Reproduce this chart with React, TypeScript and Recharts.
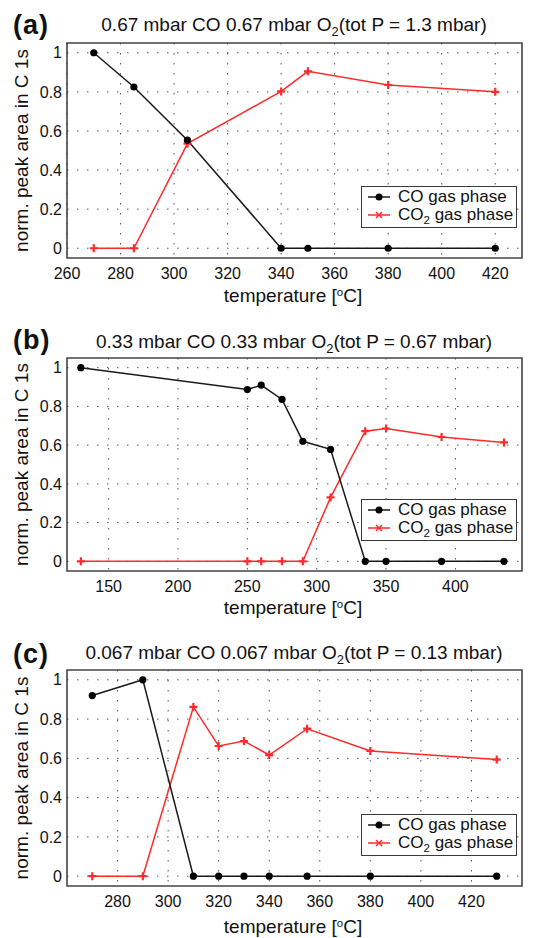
import React from 'react';
import { LineChart, Line, XAxis, YAxis, CartesianGrid, ReferenceArea, Legend } from 'recharts';

// panel (a) 0.67 mbar CO + 0.67 mbar O2
const tempA = [270, 285, 305, 340, 350, 380, 420];
const coA = [1.0, 0.825, 0.553, 0, 0, 0, 0];
const co2A = [0, 0, 0.535, 0.802, 0.905, 0.835, 0.8];
const xTicksA = [260, 280, 300, 320, 340, 360, 380, 400, 420];

// panel (b) 0.33 mbar CO + 0.33 mbar O2
const tempB = [130, 250, 260, 275, 290, 310, 335, 350, 390, 435];
const coB = [1.0, 0.887, 0.91, 0.836, 0.62, 0.578, 0, 0, 0, 0];
const co2B = [0, 0, 0, 0, 0, 0.33, 0.672, 0.686, 0.642, 0.614];
const xTicksB = [150, 200, 250, 300, 350, 400];

// panel (c) 0.067 mbar CO + 0.067 mbar O2
const tempC = [270, 290, 310, 320, 330, 340, 355, 380, 430];
const coC = [0.92, 1.0, 0, 0, 0, 0, 0, 0, 0];
const co2C = [0, 0, 0.862, 0.663, 0.688, 0.617, 0.751, 0.638, 0.594];
const xTicksC = [280, 300, 320, 340, 360, 380, 400, 420];

const yTicks = [0, 0.2, 0.4, 0.6, 0.8, 1];
const yGrid = [0, 0.1, 0.2, 0.3, 0.4, 0.5, 0.6, 0.7, 0.8, 0.9, 1];

const FONT = '"Liberation Sans", Arial, Helvetica, sans-serif';
const RED = '#ff2b2b';
const BLACK = '#1a1a1a';

const CircleDot = (props: any) => {
  const { cx, cy, index } = props;
  if (cx == null || cy == null) return null;
  return <circle key={'c' + index} cx={cx} cy={cy} r={3.6} fill="#000" />;
};

const PlusDot = (props: any) => {
  const { cx, cy, index } = props;
  if (cx == null || cy == null) return null;
  const s = 4;
  return (
    <path
      key={'p' + index}
      d={`M${cx - s},${cy}H${cx + s}M${cx},${cy - s}V${cy + s}`}
      stroke={RED}
      strokeWidth={2.2}
      fill="none"
    />
  );
};

const Sub = ({ children }: { children: React.ReactNode }) => (
  <sub style={{ fontSize: '0.68em', verticalAlign: '-0.35em', lineHeight: 0 }}>{children}</sub>
);

const LegendBox = () => (
  <div
    style={{
      width: 156,
      height: 42,
      boxSizing: 'border-box',
      border: '1.5px solid #3a3a3a',
      background: '#fff',
      fontFamily: FONT,
      fontSize: 17,
      color: '#111',
      paddingTop: 1,
      textAlign: 'left',
    }}
  >
    <div style={{ display: 'flex', alignItems: 'center', height: 18 }}>
      <svg width={22} height={10} style={{ marginLeft: 6, marginRight: 8 }}>
        <line x1={0} y1={5} x2={22} y2={5} stroke={BLACK} strokeWidth={1.5} />
        <circle cx={11} cy={5} r={3.5} fill="#000" />
      </svg>
      <span style={{ whiteSpace: 'nowrap' }}>CO gas phase</span>
    </div>
    <div style={{ display: 'flex', alignItems: 'center', height: 18 }}>
      <svg width={22} height={10} style={{ marginLeft: 6, marginRight: 8 }}>
        <line x1={0} y1={5} x2={22} y2={5} stroke={RED} strokeWidth={1.5} />
        <path d="M8,2L14,8M14,2L8,8" stroke={RED} strokeWidth={1.5} />
      </svg>
      <span style={{ whiteSpace: 'nowrap' }}>
        CO<Sub>2</Sub> gas phase
      </span>
    </div>
  </div>
);

type PanelProps = {
  tag: string;
  title: React.ReactNode;
  temps: number[];
  co: number[];
  co2: number[];
  xDomain: [number, number];
  xTicks: number[];
  height: number;
  plotTop: number;
  plotBottom: number;
  legendTop: number;
  titleY: number;
  tagY: number;
  xLabelY: number;
};

function Panel(p: PanelProps) {
  const data = p.temps.map((t, i) => ({ t, co: p.co[i], co2: p.co2[i] }));
  const xAxisH = 30;
  const tickStyle = { fill: '#111', fontSize: 16, fontFamily: FONT };
  return (
    <div style={{ position: 'relative', width: 541, height: p.height }}>
      <LineChart
        width={541}
        height={p.height}
        data={data}
        margin={{ top: p.plotTop, right: 19, bottom: p.height - p.plotBottom - xAxisH, left: 0 }}
      >
        <CartesianGrid
          stroke="#555"
          strokeDasharray="1.5 8.5"
          horizontalValues={yGrid}
          verticalValues={p.xTicks}
        />
        <XAxis
          type="number"
          dataKey="t"
          domain={p.xDomain}
          ticks={p.xTicks}
          allowDataOverflow
          height={xAxisH}
          axisLine={false}
          tickLine={false}
          tickSize={6}
          tickMargin={4}
          tick={tickStyle}
        />
        <YAxis
          type="number"
          domain={[-0.05, 1.05]}
          ticks={yTicks}
          allowDataOverflow
          width={67}
          axisLine={false}
          tickLine={false}
          tickSize={3}
          tickMargin={2}
          tick={tickStyle}
          label={{
            value: 'norm. peak area in C 1s',
            angle: -90,
            position: 'insideLeft',
            offset: 21,
            style: { textAnchor: 'middle', fontSize: 19, fontFamily: FONT, fill: '#111' },
          }}
        />
        <ReferenceArea
          x1={p.xDomain[0]}
          x2={p.xDomain[1]}
          y1={-0.05}
          y2={1.05}
          fill="none"
          stroke="#444"
          strokeWidth={1.6}
          ifOverflow="visible"
        />
        <Line
          dataKey="co2"
          stroke={RED}
          strokeWidth={1.5}
          dot={PlusDot}
          activeDot={false}
          isAnimationActive={false}
        />
        <Line
          dataKey="co"
          stroke={BLACK}
          strokeWidth={1.5}
          dot={CircleDot}
          activeDot={false}
          isAnimationActive={false}
        />
        <Legend
          layout="horizontal"
          verticalAlign="middle"
          align="center"
          content={() => <LegendBox />}
          wrapperStyle={{ left: 361, top: p.legendTop, width: 156, height: 42, right: 'auto', bottom: 'auto' }}
        />
      </LineChart>
      <div
        style={{
          position: 'absolute',
          left: 13,
          top: p.tagY - 15,
          lineHeight: '30px',
          fontSize: 27,
          letterSpacing: 1,
          fontWeight: 'bold',
          fontFamily: FONT,
          color: '#111',
        }}
      >
        {p.tag}
      </div>
      <div
        style={{
          position: 'absolute',
          left: 294,
          top: p.titleY - 12,
          transform: 'translateX(-50%)',
          whiteSpace: 'nowrap',
          lineHeight: '24px',
          fontSize: 19,
          fontFamily: FONT,
          color: '#111',
        }}
      >
        {p.title}
      </div>
      <div
        style={{
          position: 'absolute',
          left: 293,
          top: p.xLabelY - 12,
          transform: 'translateX(-50%)',
          whiteSpace: 'nowrap',
          lineHeight: '24px',
          fontSize: 19,
          fontFamily: FONT,
          color: '#111',
        }}
      >
        temperature [<sup style={{ fontSize: '0.6em', verticalAlign: '0.55em', lineHeight: 0 }}>o</sup>C]
      </div>
    </div>
  );
}

export default function App() {
  return (
    <div style={{ position: 'absolute', left: 0, top: 0, width: 541, height: 938, background: '#fff' }}>
      <Panel
        tag="(a)"
        title={<>0.67 mbar CO 0.67 mbar O<Sub>2</Sub>(tot P = 1.3 mbar)</>}
        temps={tempA}
        co={coA}
        co2={co2A}
        xDomain={[260, 430]}
        xTicks={xTicksA}
        height={310}
        plotTop={43}
        plotBottom={258}
        legendTop={186}
        titleY={25}
        tagY={25}
        xLabelY={296}
      />
      <Panel
        tag="(b)"
        title={<>0.33 mbar CO 0.33 mbar O<Sub>2</Sub>(tot P = 0.67 mbar)</>}
        temps={tempB}
        co={coB}
        co2={co2B}
        xDomain={[120, 448]}
        xTicks={xTicksB}
        height={310}
        plotTop={48}
        plotBottom={261}
        legendTop={189}
        titleY={32}
        tagY={30}
        xLabelY={298}
      />
      <Panel
        tag="(c)"
        title={<>0.067 mbar CO 0.067 mbar O<Sub>2</Sub>(tot P = 0.13 mbar)</>}
        temps={tempC}
        co={coC}
        co2={co2C}
        xDomain={[260, 440]}
        xTicks={xTicksC}
        height={318}
        plotTop={50}
        plotBottom={266}
        legendTop={194}
        titleY={33}
        tagY={34}
        xLabelY={307}
      />
    </div>
  );
}
